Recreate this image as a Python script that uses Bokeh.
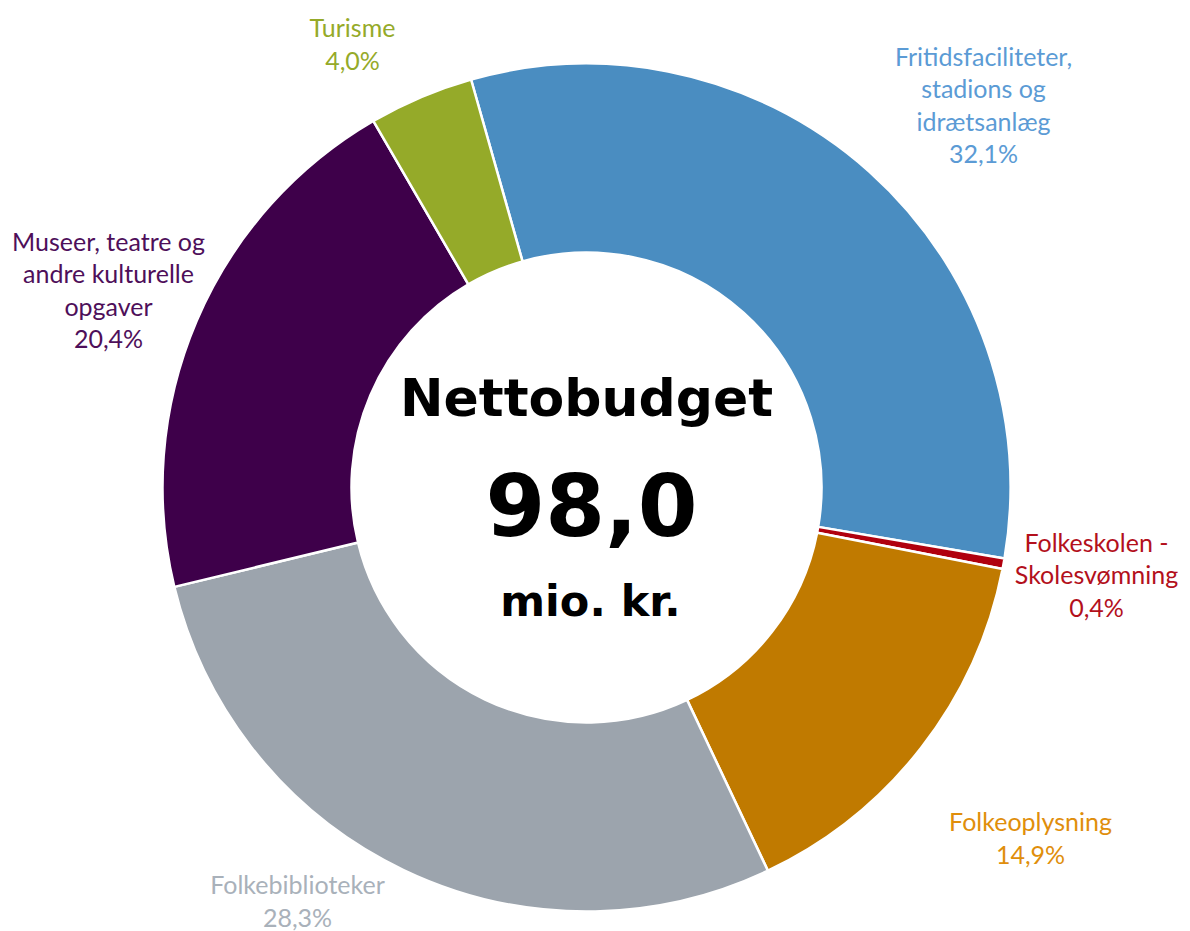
import math
from bokeh.plotting import figure
from bokeh.models import ColumnDataSource, Range1d
from bokeh.core.properties import value
from bokeh.embed import file_html
from bokeh.resources import INLINE

# ---- data ----
categories = [
    "Fritidsfaciliteter,\nstadions og\nidrætsanlæg",
    "Folkeskolen -\nSkolesvømning",
    "Folkeoplysning",
    "Folkebiblioteker",
    "Museer, teatre og\nandre kulturelle\nopgaver",
    "Turisme",
]
shares = [32.1, 0.4, 14.9, 28.3, 20.4, 4.0]
total_budget = "98,0"
center_title = "Nettobudget"
center_unit = "mio. kr."

# ---- styles ----
slice_colors = ["#4A8DC1", "#B0000E", "#C07A00", "#9CA4AD", "#3E004A", "#95AA29"]
label_colors = ["#5B9BD5", "#B3101C", "#E08E0B", "#A9B1BA", "#4E0F5A", "#95AA29"]
label_pos = [(983, 104), (1096, 574), (1030, 837), (297, 900), (108, 289), (352, 43)]

W, H = 1190, 931


def to_x(sx):
    return sx


def to_y(sy):
    return H - sy


cx, cy = 586, 487
r_out, r_in = 424, 235
start_deg = -15.8  # clockwise from 12 o'clock

tot = sum(shares)
starts, ends = [], []
acc = start_deg
for v in shares:
    a0 = acc
    a1 = acc + v / tot * 360.0
    starts.append(math.radians(90 - a0))
    ends.append(math.radians(90 - a1))
    acc = a1

src = ColumnDataSource(dict(
    x=[to_x(cx)] * len(shares), y=[to_y(cy)] * len(shares),
    start=starts, end=ends, color=slice_colors,
))

p = figure(width=W, height=H, output_backend="svg", toolbar_location=None,
           x_range=Range1d(0, W), y_range=Range1d(0, H),
           min_border=0)
p.axis.visible = False
p.grid.visible = False
p.outline_line_color = None
p.background_fill_color = "white"
p.border_fill_color = "white"

p.annular_wedge(x="x", y="y", inner_radius=r_in, outer_radius=r_out,
                start_angle="start", end_angle="end", direction="clock",
                fill_color="color", line_color="white", line_width=2.5,
                source=src)

label_texts = [c + "\n" + f"{v:.1f}".replace(".", ",") + "%"
               for c, v in zip(categories, shares)]
lsrc = ColumnDataSource(dict(
    x=[to_x(px) for px, py in label_pos], y=[to_y(py) for px, py in label_pos],
    text=label_texts, color=label_colors,
))
p.text(x="x", y="y", text="text", text_color="color", source=lsrc,
       text_font=value("Lato"), text_font_size="25px", text_align="center",
       text_baseline="middle", text_line_height=1.07)

p.text(x=[to_x(cx)], y=[to_y(397)], text=[center_title], text_font=value("DejaVu Sans"),
       text_font_style="bold", text_font_size="52px", text_align="center",
       text_baseline="middle", text_color="black")
p.text(x=[to_x(cx + 5)], y=[to_y(504)], text=[total_budget], text_font=value("DejaVu Sans"),
       text_font_style="bold", text_font_size="86px", text_align="center",
       text_baseline="middle", text_color="black")
p.text(x=[to_x(cx + 4)], y=[to_y(600)], text=[center_unit], text_font=value("DejaVu Sans"),
       text_font_style="bold", text_font_size="43px", text_align="center",
       text_baseline="middle", text_color="black")

open("out.html", "w").write(file_html(p, INLINE))
